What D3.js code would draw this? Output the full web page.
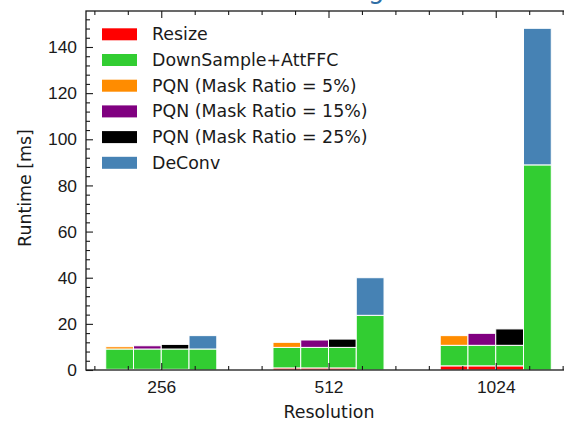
<!DOCTYPE html>
<html>
<head>
<meta charset="utf-8">
<script src="https://cdn.jsdelivr.net/npm/d3@7"></script>
<style>
  body { margin: 0; background: #fff; }
  svg { display: block; overflow: hidden; font-family: 'DejaVu Sans', sans-serif; }
  .axis text { font-size: 17.4px; fill: #1a1a1a; }
  .axis line { stroke: #1a1a1a; }
</style>
</head>
<body>
<div id="chart"></div>
<script>
const resolutions = ['256', '512', '1024']
const resize = [0.3, 0.9, 1.8]
const downSample = [8.8, 8.9, 8.9]
const pqn5 = [1.0, 2.2, 4.2]
const pqn15 = [1.4, 3.2, 5.2]
const pqn25 = [2.0, 3.6, 7.1]
// DownSample+AttFFC under the DeConv bar (no resize step there)
const deconvBase = [9.1, 23.7, 88.9]
const deconv = [5.8, 16.3, 59.2]
const yTicks = [0, 20, 40, 60, 80, 100, 120, 140]

const legendLabels = [
  'Resize',
  'DownSample+AttFFC',
  'PQN (Mask Ratio = 5%)',
  'PQN (Mask Ratio = 15%)',
  'PQN (Mask Ratio = 25%)',
  'DeConv'
]
const colors = ['#ff0000', '#32cd32', '#ff8c00', '#800080', '#000000', '#4682b4']

const width = 564
const height = 421
const margin = { top: 11, left: 86, bottom: 51 }
const plotRight = 571
const fontSize = '17.4px'

const svg = d3
  .select('#chart')
  .append('svg')
  .attr('width', width)
  .attr('height', height)

// cropped caption from the page above the figure, only the descender shows
svg
  .append('text')
  .attr('x', 368)
  .attr('y', -2)
  .style('font-size', '26px')
  .style('fill', '#2f6ea5')
  .text('g')

const xPositionScale = d3.scaleLinear().domain([-0.45, 2.45]).range([margin.left, plotRight])
const yPositionScale = d3.scaleLinear().domain([0, 155.6]).range([height - margin.bottom, margin.top])

const barWidth = 0.166

// build stacked segments: [colorIndex, value] per bar
const bars = []
resolutions.forEach((r, i) => {
  const pqns = [pqn5[i], pqn15[i], pqn25[i]]
  pqns.forEach((p, j) => {
    bars.push({ pos: i + (j - 1.5) * barWidth, segs: [[0, resize[i]], [1, downSample[i]], [2 + j, p]] })
  })
  bars.push({ pos: i + 1.5 * barWidth, segs: [[1, deconvBase[i]], [5, deconv[i]]] })
})

const rects = []
bars.forEach(b => {
  let base = 0
  b.segs.forEach(s => {
    rects.push({ pos: b.pos, y0: base, y1: base + s[1], c: colors[s[0]] })
    base += s[1]
  })
})

svg
  .append('g')
  .selectAll('rect')
  .data(rects)
  .enter()
  .append('rect')
  .attr('x', d => xPositionScale(d.pos - barWidth / 2))
  .attr('width', d => xPositionScale(barWidth) - xPositionScale(0))
  .attr('y', d => yPositionScale(d.y1))
  .attr('height', d => yPositionScale(d.y0) - yPositionScale(d.y1))
  .attr('fill', d => d.c)
  .attr('stroke', '#fff')
  .attr('stroke-width', 1)

// axes, ticks pointing inward
const xMinor = d3.range(-0.4, 2.45, 0.2).filter(v => Math.abs(v - Math.round(v)) > 0.01)
const yMinor = d3.range(4, 156, 4).filter(v => v % 20 !== 0)

const bottomAxis = svg.append('g').attr('class', 'axis').attr('transform', `translate(0,${yPositionScale(0)})`)
bottomAxis.append('g').call(d3.axisBottom(xPositionScale).tickValues([0, 1, 2]).tickFormat(i => resolutions[i]).tickSize(-7).tickSizeOuter(0).tickPadding(11))
bottomAxis.append('g').call(d3.axisBottom(xPositionScale).tickValues(xMinor).tickFormat('').tickSize(-4).tickSizeOuter(0))

const topAxis = svg.append('g').attr('class', 'axis').attr('transform', `translate(0,${margin.top})`)
topAxis.append('g').call(d3.axisTop(xPositionScale).tickValues([0, 1, 2]).tickFormat('').tickSize(-7).tickSizeOuter(0))
topAxis.append('g').call(d3.axisTop(xPositionScale).tickValues(xMinor).tickFormat('').tickSize(-4).tickSizeOuter(0))

const leftAxis = svg.append('g').attr('class', 'axis').attr('transform', `translate(${margin.left},0)`)
leftAxis.append('g').call(d3.axisLeft(yPositionScale).tickValues(yTicks).tickSize(-7).tickSizeOuter(0).tickPadding(9))
leftAxis.append('g').call(d3.axisLeft(yPositionScale).tickValues(yMinor).tickFormat('').tickSize(-4).tickSizeOuter(0))

svg.selectAll('.axis .domain').remove()
svg.selectAll('.axis line').attr('stroke-width', 1.1)

svg
  .append('rect')
  .attr('x', margin.left)
  .attr('y', margin.top)
  .attr('width', plotRight - margin.left)
  .attr('height', yPositionScale(0) - margin.top)
  .attr('fill', 'none')
  .attr('stroke', '#1a1a1a')
  .attr('stroke-width', 1.3)

// legend
const legend = svg
  .append('g')
  .selectAll('g')
  .data(legendLabels)
  .enter()
  .append('g')
  .attr('transform', (d, i) => `translate(102,${34.3 + i * 25.7})`)

legend
  .append('rect')
  .attr('x', 0)
  .attr('y', -6)
  .attr('width', 35)
  .attr('height', 12)
  .attr('fill', (d, i) => colors[i])

legend
  .append('text')
  .attr('x', 50)
  .attr('y', 0)
  .attr('dy', '0.35em')
  .style('font-size', fontSize)
  .style('fill', '#1a1a1a')
  .text(d => d)

svg
  .append('text')
  .attr('x', 329)
  .attr('y', 418)
  .style('text-anchor', 'middle')
  .style('font-size', fontSize)
  .style('fill', '#1a1a1a')
  .text('Resolution')

svg
  .append('text')
  .attr('transform', 'translate(31,188) rotate(-90)')
  .style('text-anchor', 'middle')
  .style('font-size', fontSize)
  .style('fill', '#1a1a1a')
  .text('Runtime [ms]')
</script>
</body>
</html>
